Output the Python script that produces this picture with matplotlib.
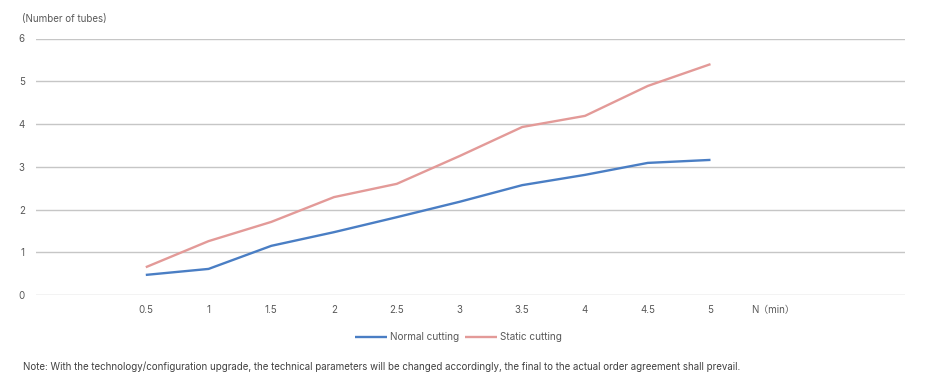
import matplotlib
matplotlib.use("Agg")
import matplotlib.pyplot as plt

categories = ["0.5", "1", "1.5", "2", "2.5", "3", "3.5", "4", "4.5", "5"]
normal_cutting = [0.47, 0.61, 1.15, 1.47, 1.82, 2.18, 2.57, 2.81, 3.09, 3.16]
static_cutting = [0.65, 1.26, 1.71, 2.29, 2.60, 3.25, 3.93, 4.19, 4.89, 5.40]
yticks = [0, 1, 2, 3, 4, 5, 6]
x_unit_label = "N（min）"

plt.rcParams['font.family'] = ['Inter', 'Noto Sans CJK SC', 'DejaVu Sans']
txt = '#595959'

fig = plt.figure(figsize=(9.31, 3.92), dpi=100)
ax = fig.add_axes([36/931, 1-295/392, (905-36)/931, (295-38.5)/392])

x = list(range(len(categories)))
ax.plot(x, normal_cutting, color='#4a7ec4', lw=1.7, label='Normal cutting', solid_capstyle='butt')
ax.plot(x, static_cutting, color='#e39a98', lw=1.7, label='Static cutting', solid_capstyle='butt')

ax.set_ylim(0, 6)
ax.set_xlim(-1.75, 12.1)
ax.set_yticks(yticks)
ax.set_yticklabels([str(v) for v in yticks])
ax.set_xticks(x + [len(categories)])
ax.set_xticklabels(categories + [x_unit_label])
ax.tick_params(axis='both', length=0, labelsize=7, colors=txt)
ax.tick_params(axis='y', pad=8)
ax.tick_params(axis='x', pad=7)
ax.grid(axis='y', color='#c6c6c6', lw=1.0)
ax.set_axisbelow(True)
for s in ax.spines.values():
    s.set_visible(False)

fig.text(22/931, 1-19/392, "(Number of tubes)", fontsize=7, color=txt, va='center', ha='left')

leg = fig.legend(loc='center', bbox_to_anchor=(458/931, 1-337/392), ncol=2, frameon=False,
                 fontsize=7.2, handlelength=3.2, handletextpad=0.3, columnspacing=0.6)
for t in leg.get_texts():
    t.set_color(txt)

fig.text(23/931, 1-367/392,
         "Note: With the technology/configuration upgrade, the technical parameters will be changed accordingly, the final to the actual order agreement shall prevail.",
         fontsize=7.0, color='#404040', va='center', ha='left')

fig.savefig("out.png", dpi=100, facecolor='white')
